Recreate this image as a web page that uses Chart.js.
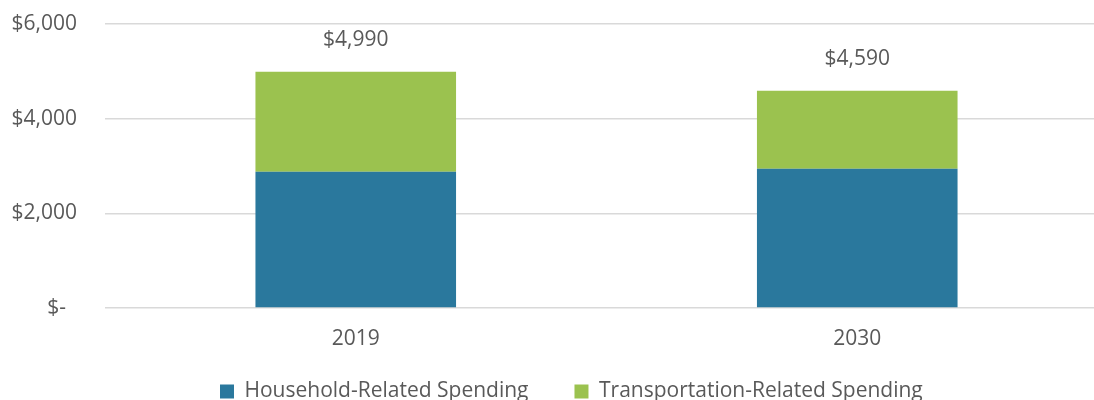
<!DOCTYPE html>
<html>
<head>
<meta charset="utf-8">
<script src="https://cdn.jsdelivr.net/npm/chart.js@4/dist/chart.umd.min.js"></script>
<style>
  html, body { margin: 0; padding: 0; background: #ffffff; overflow: hidden; }
  #wrap { position: absolute; left: 0; top: 0; width: 1094px; height: 400px; overflow: hidden; }
  #box { position: absolute; left: 0; top: 0; width: 1130px; height: 420px; }
</style>
</head>
<body>
<div id="wrap"><div id="box"><canvas id="c"></canvas></div></div>
<script>
const categories = ['2019', '2030'];
const householdSpending = [2880, 2940];
const transportationSpending = [2110, 1650];
const seriesNames = ['Household-Related Spending', 'Transportation-Related Spending'];
const yTicks = [0, 2000, 4000, 6000];

const TEXT = '#595959';
const FONT = "'Open Sans', sans-serif";
const FS = 21;

function money(v) {
  if (v === 0) return '$-  ';
  return '$' + String(Math.round(v)).replace(/\B(?=(\d{3})+(?!\d))/g, ',');
}

const totalLabels = {
  id: 'totalLabels',
  afterDatasetsDraw(chart) {
    const ctx = chart.ctx;
    const top = chart.getDatasetMeta(chart.data.datasets.length - 1);
    ctx.save();
    ctx.font = FS + 'px ' + FONT;
    ctx.fillStyle = TEXT;
    ctx.textAlign = 'center';
    ctx.textBaseline = 'middle';
    categories.forEach((c, i) => {
      const total = householdSpending[i] + transportationSpending[i];
      const el = top.data[i];
      ctx.fillText(money(total), el.x, el.y - 32);
    });
    ctx.restore();
  }
};

const legendPlace = {
  id: 'legendPlace',
  afterLayout(chart) {
    const L = chart.legend;
    if (!L) return;
    const p = L.options.labels.padding;
    L.left = 220 - p;
    L.top = 381 - p;
    L.bottom = chart.height;
  }
};

function build() {
  new Chart(document.getElementById('c'), {
    type: 'bar',
    data: {
      labels: categories,
      datasets: [
        { label: seriesNames[0], data: householdSpending, backgroundColor: '#2A789D', borderWidth: 0 },
        { label: seriesNames[1], data: transportationSpending, backgroundColor: '#9BC24F', borderWidth: 0 }
      ]
    },
    options: {
      responsive: true,
      maintainAspectRatio: false,
      animation: false,
      layout: { padding: { left: 12, right: 22, top: 24, bottom: 30 } },
      datasets: { bar: { categoryPercentage: 1.0, barPercentage: 0.4 } },
      scales: {
        x: {
          stacked: true,
          grid: { display: false, drawTicks: false },
          border: { display: false },
          ticks: { color: TEXT, font: { family: FONT, size: FS }, padding: 18.4 }
        },
        y: {
          stacked: true,
          min: 0, max: 6000,
          afterBuildTicks(axis) { axis.ticks = yTicks.map(v => ({ value: v })); },
          afterFit(axis) { axis.width = 93; axis.paddingTop = 0; axis.paddingBottom = 0; },
          grid: { color: '#D9D9D9', lineWidth: 1.5, drawTicks: false },
          border: { display: false },
          ticks: { color: TEXT, font: { family: FONT, size: FS }, padding: 28, callback: v => money(v) }
        }
      },
      plugins: {
        tooltip: { enabled: false },
        legend: {
          position: 'bottom',
          align: 'start',
          maxHeight: 20,
          labels: { color: TEXT, font: { family: FONT, size: FS }, boxWidth: 14, boxHeight: 14, padding: 46 }
        }
      }
    },
    plugins: [totalLabels, legendPlace]
  });
}

if (document.fonts && document.fonts.load) {
  document.fonts.load(FS + "px 'Open Sans'").then(build, build);
} else {
  build();
}
</script>
</body>
</html>
